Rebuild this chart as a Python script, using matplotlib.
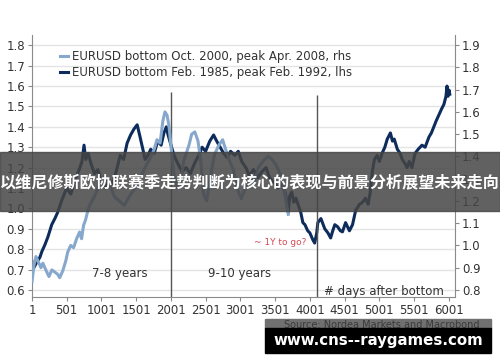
import matplotlib
matplotlib.use("Agg")
import matplotlib.pyplot as plt
from matplotlib.patches import Rectangle
from matplotlib.lines import Line2D

##data: (day after bottom, EURUSD)
dark_days = [1, 30, 60, 115, 145, 185, 230, 285, 330, 370, 430, 500, 560, 620, 680, 720, 750, 775,
             810, 850, 900, 950, 1000, 1060, 1110, 1160, 1220, 1270, 1320, 1370, 1420, 1470, 1515,
             1550, 1590, 1630, 1670, 1710, 1760, 1810, 1860, 1900, 1935, 1960, 1985, 2045, 2100,
             2160, 2220, 2280, 2340, 2400, 2450, 2500, 2560, 2615, 2660, 2710, 2760, 2810, 2860,
             2920, 2970, 3020, 3080, 3130, 3190, 3250, 3310, 3370, 3420, 3480, 3540, 3600, 3650,
             3690, 3710, 3740, 3770, 3800, 3830, 3870, 3900, 3930, 3970, 4000, 4045, 4070, 4100,
             4115, 4160, 4215, 4260, 4300, 4330, 4360, 4400, 4440, 4470, 4515, 4570, 4615, 4660,
             4715, 4760, 4800, 4840, 4870, 4900, 4930, 4970, 5000, 5040, 5080, 5115, 5160, 5190,
             5215, 5260, 5300, 5330, 5370, 5400, 5430, 5470, 5515, 5560, 5615, 5660, 5715, 5750,
             5785, 5820, 5860, 5900, 5930, 5960, 5975, 5990, 6005, 6015]
dark_vals = [0.74, 0.71, 0.73, 0.76, 0.79, 0.82, 0.86, 0.92, 0.95, 0.98, 1.04, 1.10, 1.07, 1.14,
             1.19, 1.23, 1.31, 1.24, 1.27, 1.22, 1.17, 1.19, 1.13, 1.10, 1.14, 1.12, 1.19, 1.26,
             1.24, 1.32, 1.36, 1.39, 1.41, 1.36, 1.30, 1.24, 1.26, 1.29, 1.27, 1.33, 1.31, 1.37,
             1.40, 1.36, 1.33, 1.26, 1.22, 1.18, 1.20, 1.17, 1.22, 1.26, 1.30, 1.28, 1.33, 1.36,
             1.33, 1.30, 1.27, 1.25, 1.28, 1.26, 1.28, 1.23, 1.20, 1.16, 1.19, 1.15, 1.18, 1.20,
             1.15, 1.13, 1.10, 1.12, 1.07, 0.98, 1.06, 1.08, 1.03, 1.05, 1.02, 0.98, 0.93, 0.92,
             0.89, 0.88, 0.845, 0.83, 0.88, 0.93, 0.95, 0.90, 0.88, 0.855, 0.89, 0.92, 0.91, 0.89,
             0.885, 0.93, 0.89, 0.92, 0.99, 1.02, 1.03, 1.05, 1.02, 1.08, 1.18, 1.24, 1.26, 1.23,
             1.27, 1.30, 1.34, 1.37, 1.33, 1.34, 1.29, 1.27, 1.24, 1.22, 1.20, 1.23, 1.20, 1.27,
             1.29, 1.31, 1.30, 1.35, 1.37, 1.40, 1.43, 1.46, 1.49, 1.51, 1.55, 1.60, 1.55, 1.58,
             1.56]

light_days = [1, 30, 58, 87, 130, 158, 200, 245, 287, 330, 372, 400, 443, 487, 515, 558, 600, 643,
              686, 715, 743, 772, 800, 830, 900, 970, 1040, 1115, 1185, 1257, 1330, 1400, 1470,
              1545, 1585, 1645, 1715, 1758, 1800, 1845, 1885, 1915, 1945, 1972, 2000, 2045, 2085,
              2145, 2185, 2260, 2300, 2345, 2390, 2430, 2470, 2515, 2570, 2630, 2690, 2745, 2790,
              2845, 2900, 2960, 3015, 3085, 3145, 3200, 3260, 3330, 3400, 3460, 3515, 3575, 3630,
              3690]
light_vals = [0.837, 0.913, 0.95, 0.93, 0.90, 0.92, 0.89, 0.86, 0.89, 0.88, 0.87, 0.855, 0.885,
              0.93, 0.97, 1.00, 0.99, 1.03, 1.06, 1.03, 1.09, 1.115, 1.15, 1.18, 1.22, 1.27, 1.31,
              1.28, 1.22, 1.20, 1.18, 1.22, 1.25, 1.29, 1.32, 1.36, 1.40, 1.43, 1.475, 1.46, 1.56,
              1.60, 1.585, 1.54, 1.45, 1.32, 1.26, 1.30, 1.38, 1.45, 1.50, 1.51, 1.47, 1.38, 1.23,
              1.20, 1.31, 1.41, 1.45, 1.475, 1.43, 1.38, 1.34, 1.25, 1.21, 1.27, 1.30, 1.29, 1.35,
              1.38, 1.40, 1.385, 1.36, 1.32, 1.25, 1.14]

marker_days = [2001, 4101]
marker_tops = [1.57, 1.555]
x_ticks = [1, 501, 1001, 1501, 2001, 2501, 3001, 3501, 4001, 4501, 5001, 5501, 6001]
lhs_ticks = [0.6, 0.7, 0.8, 0.9, 1.0, 1.1, 1.2, 1.3, 1.4, 1.5, 1.6, 1.7, 1.8]
rhs_ticks = [0.8, 0.9, 1.0, 1.1, 1.2, 1.3, 1.4, 1.5, 1.6, 1.7, 1.8, 1.9]

light_col = "#86a8cd"
dark_col = "#0d2c5c"
grey = "#8a8a8a"
txt = "#333333"

fig = plt.figure(figsize=(5, 3.62), dpi=100)
ax = fig.add_axes([0.064, 0.18, 0.846, 0.723])
ax2 = ax.twinx()

ax.plot(dark_days, dark_vals, color=dark_col, lw=2.2)
ax2.plot(light_days, light_vals, color=light_col, lw=2.2)
ax.vlines(marker_days, 0.5, marker_tops, color="#555555", lw=1)

ax.set_xlim(1, 6090)
ax.set_ylim(0.566, 1.85)
ax2.set_ylim(0.769, 1.945)
ax.set_xticks(x_ticks)
ax.set_yticks(lhs_ticks)
ax2.set_yticks(rhs_ticks)
ax.set_yticklabels([f"{v:.1f}" for v in lhs_ticks])
ax2.set_yticklabels([f"{v:.1f}" for v in rhs_ticks])
ax.grid(axis="y", color="#e4e4e4", lw=1)
ax.set_axisbelow(True)

for a in (ax, ax2):
    a.spines["top"].set_visible(False)
    for s in ("left", "right", "bottom"):
        a.spines[s].set_color(grey)
    a.tick_params(colors=grey, labelcolor=txt, labelsize=8.5, length=3, pad=2)
ax.spines["right"].set_visible(False)
ax2.spines["left"].set_visible(False)
ax2.spines["bottom"].set_visible(False)

ax.text(1258, 0.68, "7-8 years", fontsize=8.5, color=txt, ha="center", va="center")
ax.text(2990, 0.68, "9-10 years", fontsize=8.5, color=txt, ha="center", va="center")
ax.text(5060, 0.59, "# days after bottom", fontsize=8.5, color=txt, ha="center", va="center")
ax.text(3570, 0.835, "~ 1Y to go?", fontsize=6.5, color="#d24a55", ha="center", va="center")

handles = [Line2D([], [], color=light_col, lw=2.2), Line2D([], [], color=dark_col, lw=2.2)]
labels = ["EURUSD bottom Oct. 2000, peak Apr. 2008, rhs",
          "EURUSD bottom Feb. 1985, peak Feb. 1992, lhs"]
leg = ax2.legend(handles, labels, loc="upper left", bbox_to_anchor=(0.055, 0.96), frameon=False,
                 fontsize=8.5, handlelength=0.7, handletextpad=0.3, labelspacing=0.25,
                 borderaxespad=0)
for t in leg.get_texts():
    t.set_color(txt)

# overlay banner
H = 362.0
fig.add_artist(Rectangle((0, 1 - 211 / H), 1, 59 / H, transform=fig.transFigure,
                         color=(0.27, 0.27, 0.27), alpha=0.85, zorder=10))
fig.text(0.5, 1 - 182 / H, "以维尼修斯欧协联赛季走势判断为核心的表现与前景分析展望未来走向",
         family=["Noto Sans CJK SC", "DejaVu Sans"], fontweight="bold", fontsize=11.6,
         color="white", ha="center", va="center", zorder=11)

# watermark
fig.add_artist(Rectangle((265 / 500, 1 - 328 / H), 226 / 500, 9 / H, transform=fig.transFigure,
                         color="#707070", zorder=10))
fig.text(480 / 500, 1 - 325 / H, "Source: Nordea Markets and Macrobond", fontsize=7,
         color="#3a3a3a", ha="right", va="center", zorder=10.5)
fig.add_artist(Rectangle((265 / 500, 1 - 353 / H), 226 / 500, 25 / H, transform=fig.transFigure,
                         color="black", zorder=11))
fig.text(378 / 500, 1 - 341 / H, "www.cns--raygames.com", fontsize=10.8, fontweight="bold",
         color="white", ha="center", va="center", zorder=12)

fig.savefig("out.png", dpi=100)
